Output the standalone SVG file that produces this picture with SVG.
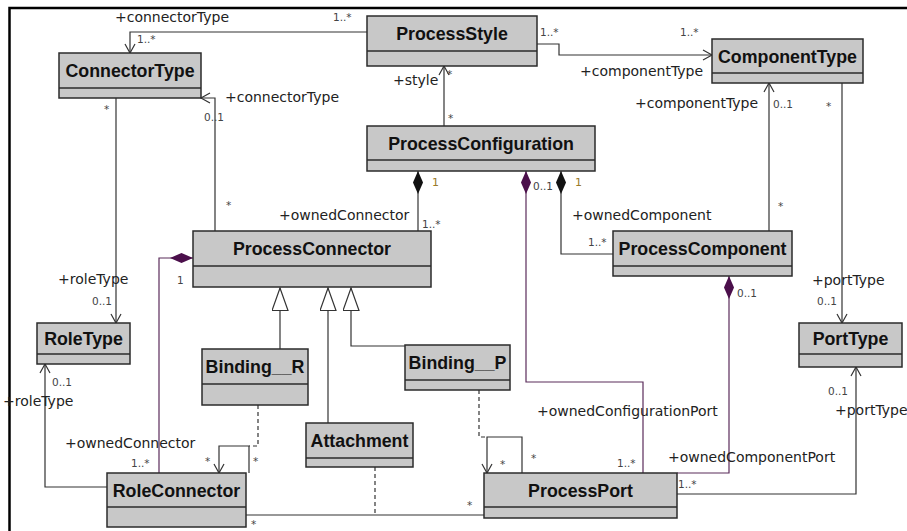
<svg xmlns="http://www.w3.org/2000/svg" width="907" height="531" viewBox="0 0 907 531">
<style>
.box{fill:#c8c8c8;stroke:#2b2b2b;stroke-width:1.5}
.div{stroke:#2b2b2b;stroke-width:1.5}
.nm{font-family:"Liberation Sans",Arial,sans-serif;font-weight:bold;font-size:17.8px;fill:#111;text-anchor:middle}
.ln{fill:none;stroke:#333;stroke-width:1.2}
.pl{fill:none;stroke:#5b2c5b;stroke-width:1.2}
.ds{fill:none;stroke:#333;stroke-width:1.2;stroke-dasharray:4,3}
.lb{font-family:"DejaVu Sans",Verdana,sans-serif;font-size:14px;fill:#222}
.mu{font-family:"DejaVu Sans",Verdana,sans-serif;font-size:10.5px;fill:#444}
.mg{font-family:"DejaVu Sans",Verdana,sans-serif;font-size:11px;fill:#9a7a2a}
</style>
<defs>
<marker id="arr" markerWidth="12" markerHeight="12" refX="10" refY="6" orient="auto" markerUnits="userSpaceOnUse" viewBox="0 0 12 12"><path d="M1,1 L10,6 L1,11" fill="none" stroke="#333" stroke-width="1.2"/></marker>
<marker id="dk" markerWidth="24" markerHeight="12" refX="0" refY="6" orient="auto" markerUnits="userSpaceOnUse" viewBox="0 0 24 12"><path d="M0,6 L11.5,1 L23,6 L11.5,11 Z" fill="#111"/></marker>
<marker id="dp" markerWidth="24" markerHeight="12" refX="0" refY="6" orient="auto" markerUnits="userSpaceOnUse" viewBox="0 0 24 12"><path d="M0,6 L11.5,1 L23,6 L11.5,11 Z" fill="#4b0f4b"/></marker>
<marker id="tri" markerWidth="24" markerHeight="18" refX="23" refY="8.5" orient="auto" markerUnits="userSpaceOnUse" viewBox="0 0 24 18"><path d="M0.5,0.5 L23,8.5 L0.5,16.5 Z" fill="#fff" stroke="#333" stroke-width="1.2"/></marker>
</defs>
<rect x="0" y="0" width="907" height="531" fill="#fff"/>
<path d="M9.5,531 V8 H907" fill="none" stroke="#000" stroke-width="2.5"/>

<g id="connectors">
<path class="ln" d="M367,32 H130 V53" marker-end="url(#arr)"/>
<path class="ln" d="M537,44 H559 V55 H712" marker-end="url(#arr)"/>
<path class="ln" d="M444,126 V66" marker-end="url(#arr)"/>
<path class="ln" d="M215,231 V98 H201" marker-end="url(#arr)"/>
<path class="ln" d="M116,98 V323" marker-end="url(#arr)"/>
<path class="ln" d="M107,487 H45 V364" marker-end="url(#arr)"/>
<path class="ln" d="M418,171 V231" marker-start="url(#dk)"/>
<path class="ln" d="M561,171 V254 H613" marker-start="url(#dk)"/>
<path class="pl" d="M526,171 V382 H643 V473" marker-start="url(#dp)"/>
<path class="pl" d="M729,276 V473 H677" marker-start="url(#dp)"/>
<path class="pl" d="M193,258 H159 V473" marker-start="url(#dp)"/>
<path class="ln" d="M677,494 H856 V367" marker-end="url(#arr)"/>
<path class="ln" d="M842,83 V323" marker-end="url(#arr)"/>
<path class="ln" d="M769,231 V83" marker-end="url(#arr)"/>
<path class="ln" d="M280,349 V288" marker-end="url(#tri)"/>
<path class="ln" d="M328,423 V288" marker-end="url(#tri)"/>
<path class="ln" d="M405,346 H351 V288" marker-end="url(#tri)"/>
<path class="ln" d="M249,473 V446 H219 V473" marker-end="url(#arr)"/>
<path class="ds" d="M258,405 V446 H249"/>
<path class="ln" d="M522,473 V437 H487 V473" marker-end="url(#arr)"/>
<path class="ds" d="M479,390 V437 H487"/>
<path class="ln" d="M246,515 H484"/>
<path class="ds" d="M375,467 V515"/>

<text class="lb" x="115" y="22">+connectorType</text>
<text class="mu" x="333" y="21">1..*</text>
<text class="mu" x="137" y="43">1..*</text>
<text class="mu" x="540" y="36">1..*</text>
<text class="mu" x="680" y="36">1..*</text>
<text class="lb" x="580" y="76">+componentType</text>
<text class="lb" x="393" y="85">+style</text>
<text class="mu" x="447" y="78">*</text>
<text class="mu" x="448" y="122">*</text>
<text class="lb" x="225" y="102">+connectorType</text>
<text class="mu" x="204" y="121">0..1</text>
<text class="mu" x="226" y="209">*</text>
<text class="mu" x="104" y="113">*</text>
<text class="lb" x="58" y="284">+roleType</text>
<text class="mu" x="92" y="305">0..1</text>
<text class="mu" x="52" y="386">0..1</text>
<text class="lb" x="3" y="406">+roleType</text>
<text class="mg" x="432" y="186">1</text>
<text class="lb" x="279" y="220">+ownedConnector</text>
<text class="mu" x="422" y="228">1..*</text>
<text class="mg" x="575" y="186">1</text>
<text class="mu" x="533" y="190">0..1</text>
<text class="lb" x="572" y="220">+ownedComponent</text>
<text class="mu" x="588" y="246">1..*</text>
<text class="lb" x="537" y="416">+ownedConfigurationPort</text>
<text class="mu" x="617" y="467">1..*</text>
<text class="mu" x="737" y="297">0..1</text>
<text class="lb" x="668" y="462">+ownedComponentPort</text>
<text class="mu" x="678" y="488">1..*</text>
<text class="mu" x="828" y="395">0..1</text>
<text class="lb" x="835" y="415">+portType</text>
<text class="mu" x="826" y="110">*</text>
<text class="lb" x="812" y="285">+portType</text>
<text class="mu" x="817" y="305">0..1</text>
<text class="lb" x="635" y="108">+componentType</text>
<text class="mu" x="773" y="108">0..1</text>
<text class="mu" x="778" y="210">*</text>
<text class="mu" x="177" y="284">1</text>
<text class="lb" x="65" y="448">+ownedConnector</text>
<text class="mu" x="131" y="467">1..*</text>
<text class="mu" x="205" y="465">*</text>
<text class="mu" x="253" y="465">*</text>
<text class="mu" x="500" y="468">*</text>
<text class="mu" x="531" y="462">*</text>
<text class="mu" x="251" y="528">*</text>
<text class="mu" x="467" y="509">*</text>
</g>

<g id="ConnectorType"><rect class="box" x="59" y="53" width="142" height="45"/><line class="div" x1="59" y1="88" x2="201" y2="88"/><text class="nm" x="130" y="76.5">ConnectorType</text></g>
<g id="ProcessStyle"><rect class="box" x="367" y="16" width="170" height="50"/><line class="div" x1="367" y1="51" x2="537" y2="51"/><text class="nm" x="452" y="39.5">ProcessStyle</text></g>
<g id="ComponentType"><rect class="box" x="712" y="39" width="151" height="44"/><line class="div" x1="712" y1="73" x2="863" y2="73"/><text class="nm" x="787.5" y="62.5">ComponentType</text></g>
<g id="ProcessConfiguration"><rect class="box" x="367" y="126" width="228" height="45"/><line class="div" x1="367" y1="160" x2="595" y2="160"/><text class="nm" x="481" y="149.5">ProcessConfiguration</text></g>
<g id="ProcessConnector"><rect class="box" x="193" y="231" width="238" height="56"/><line class="div" x1="193" y1="266" x2="431" y2="266"/><text class="nm" x="312" y="254.5">ProcessConnector</text></g>
<g id="ProcessComponent"><rect class="box" x="613" y="231" width="179" height="45"/><line class="div" x1="613" y1="266" x2="792" y2="266"/><text class="nm" x="702.5" y="254.5">ProcessComponent</text></g>
<g id="RoleType"><rect class="box" x="37" y="323" width="93" height="41"/><line class="div" x1="37" y1="354" x2="130" y2="354"/><text class="nm" x="83.5" y="344.5">RoleType</text></g>
<g id="PortType"><rect class="box" x="799" y="323" width="103" height="44"/><line class="div" x1="799" y1="354" x2="902" y2="354"/><text class="nm" x="850.5" y="344.5">PortType</text></g>
<g id="Binding__R"><rect class="box" x="202" y="349" width="106" height="56"/><line class="div" x1="202" y1="384" x2="308" y2="384"/><text class="nm" x="255" y="372.5">Binding__R</text></g>
<g id="Binding__P"><rect class="box" x="405" y="345" width="105" height="45"/><line class="div" x1="405" y1="380" x2="510" y2="380"/><text class="nm" x="457.5" y="368.5">Binding__P</text></g>
<g id="Attachment"><rect class="box" x="306" y="423" width="107" height="44"/><line class="div" x1="306" y1="458" x2="413" y2="458"/><text class="nm" x="359.5" y="446.5">Attachment</text></g>
<g id="RoleConnector"><rect class="box" x="107" y="473" width="139" height="54"/><line class="div" x1="107" y1="507" x2="246" y2="507"/><text class="nm" x="176.5" y="496.5">RoleConnector</text></g>
<g id="ProcessPort"><rect class="box" x="484" y="473" width="193" height="45"/><line class="div" x1="484" y1="507" x2="677" y2="507"/><text class="nm" x="580.5" y="496.5">ProcessPort</text></g>
</svg>
